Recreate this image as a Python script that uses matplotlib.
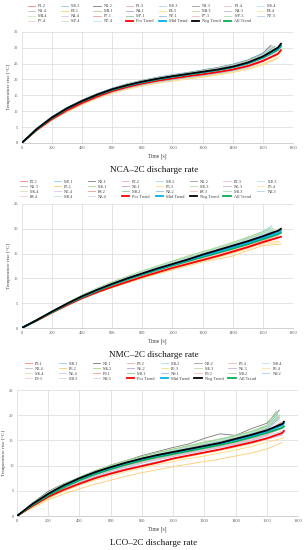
import matplotlib
matplotlib.use("Agg")
import matplotlib.pyplot as plt

plt.rcParams['font.family'] = ['Liberation Serif', 'DejaVu Serif']

W, H = 308, 550

# ---------------- common ----------------
T_GRID = [0, 100, 200, 300, 400, 500, 600, 700, 800, 900, 1000, 1100, 1200, 1300, 1400, 1500, 1600]
TREND_NAMES = ['Pos Trend', 'Mid Trend', 'Neg Trend', 'All Trend']
TREND_COLORS = ['#FF0000', '#00B0F0', '#000000', '#00B050']
SERIES_COLORS = ['#F08080', '#86CFEF', '#7A7A7A', '#F4A8A8', '#A0D9F0', '#9E9E9E', '#F6BEBE', '#B5E2F4',
                 '#BDBDBD', '#FFCC70', '#ADD585', '#BCA0D8', '#FFDA7E', '#BEDC9C', '#CAB4E0', '#FFE39C',
                 '#CDE4B2', '#D8C8EA', '#F29A9A', '#8ACF98', '#98BEE6', '#F6B8B8', '#A8DCB4', '#B0CEEE',
                 '#F8CCCC', '#C0E7C8', '#C8DCF3']

# ---------------- NCA ----------------
nca_names = ['P1.2', 'M1.2', 'N1.2', 'P1.3', 'M1.3', 'N1.3', 'P1.4', 'M1.4', 'N1.4',
             'P4.1', 'M4.1', 'N4.1', 'P4.3', 'M4.3', 'N4.3', 'P4.4', 'M4.4', 'N4.4',
             'P7.1', 'M7.1', 'N7.1', 'P7.3', 'M7.3', 'N7.3', 'P7.4', 'M7.4', 'N7.4']
nca_end_t = [1690, 1660, 1650, 1700, 1670, 1680, 1690, 1660, 1660,
             1700, 1690, 1680, 1710, 1700, 1690, 1700, 1700, 1690,
             1700, 1680, 1680, 1700, 1680, 1680, 1700, 1670, 1660]
nca_P1_2 = [0, 4.2, 7.6, 10.3, 12.7, 14.7, 16.4, 17.8, 18.8, 19.8, 20.5, 21.2, 21.9, 22.7, 23.6, 24.8, 26.6, 28.6]
nca_M1_2 = [0, 4.6, 8.3, 11.2, 13.5, 15.5, 17.2, 18.6, 19.7, 20.7, 21.5, 22.2, 23.0, 23.8, 24.8, 26.2, 28.3, 30.8]
nca_N1_2 = [0, 4.6, 8.2, 11.1, 13.5, 15.5, 17.2, 18.6, 19.7, 20.6, 21.4, 22.1, 22.9, 23.7, 24.7, 26.0, 28.2, 30.6]
nca_P1_3 = [0, 4.3, 7.8, 10.5, 12.9, 14.9, 16.6, 18.0, 19.1, 20.0, 20.8, 21.5, 22.2, 22.9, 23.8, 25.0, 26.8, 29.5]
nca_M1_3 = [0, 4.5, 8.2, 11.0, 13.4, 15.4, 17.1, 18.5, 19.6, 20.5, 21.3, 22.0, 22.7, 23.5, 24.5, 25.8, 27.8, 30.4]
nca_N1_3 = [0, 4.5, 8.1, 11.0, 13.3, 15.3, 17.0, 18.4, 19.5, 20.4, 21.2, 21.9, 22.6, 23.4, 24.4, 25.7, 27.6, 30.5]
nca_P1_4 = [0, 4.4, 7.9, 10.7, 13.0, 15.0, 16.7, 18.1, 19.2, 20.1, 20.9, 21.6, 22.3, 23.0, 23.9, 25.1, 27.0, 29.6]
nca_M1_4 = [0, 4.5, 8.1, 11.0, 13.3, 15.3, 17.0, 18.4, 19.5, 20.4, 21.2, 21.9, 22.7, 23.5, 24.4, 25.7, 27.7, 30.3]
nca_N1_4 = [0, 4.6, 8.2, 11.1, 13.4, 15.4, 17.1, 18.5, 19.6, 20.5, 21.3, 22.0, 22.8, 23.6, 24.6, 25.9, 28.0, 30.7]
nca_P4_1 = [0, 3.8, 7.1, 9.8, 12.0, 14.0, 15.6, 16.9, 17.9, 18.8, 19.5, 20.1, 20.7, 21.4, 22.2, 23.2, 24.6, 26.6]
nca_M4_1 = [0, 4.4, 8.0, 10.8, 13.1, 15.1, 16.8, 18.2, 19.3, 20.2, 21.0, 21.7, 22.4, 23.1, 24.0, 25.2, 27.0, 29.4]
nca_N4_1 = [0, 4.0, 7.4, 10.1, 12.4, 14.4, 16.0, 17.4, 18.4, 19.3, 20.0, 20.6, 21.3, 22.0, 22.9, 24.0, 25.7, 27.6]
nca_P4_3 = [0, 3.9, 7.3, 10.0, 12.2, 14.2, 15.8, 17.1, 18.1, 19.0, 19.7, 20.3, 20.9, 21.6, 22.4, 23.4, 24.9, 27.2]
nca_M4_3 = [0, 4.3, 7.9, 10.7, 13.0, 15.0, 16.7, 18.0, 19.1, 20.0, 20.8, 21.5, 22.2, 22.9, 23.8, 25.0, 26.8, 29.3]
nca_N4_3 = [0, 4.1, 7.5, 10.3, 12.6, 14.6, 16.2, 17.6, 18.6, 19.5, 20.2, 20.9, 21.6, 22.3, 23.2, 24.3, 26.0, 28.0]
nca_P4_4 = [0, 3.9, 7.2, 9.9, 12.1, 14.1, 15.7, 17.0, 18.0, 18.9, 19.6, 20.2, 20.8, 21.5, 22.3, 23.3, 24.8, 26.9]
nca_M4_4 = [0, 4.2, 7.8, 10.6, 12.9, 14.9, 16.6, 17.9, 19.0, 19.9, 20.7, 21.4, 22.1, 22.8, 23.7, 24.9, 26.7, 29.0]
nca_N4_4 = [0, 4.2, 7.7, 10.5, 12.8, 14.8, 16.4, 17.8, 18.8, 19.7, 20.4, 21.1, 21.8, 22.5, 23.4, 24.6, 26.4, 28.5]
nca_P7_1 = [0, 4.0, 7.3, 9.9, 12.3, 14.3, 16.0, 17.3, 18.4, 19.3, 20.1, 20.8, 21.5, 22.2, 23.1, 24.2, 25.9, 28.2]
nca_M7_1 = [0, 4.4, 8.0, 10.9, 13.2, 15.2, 16.9, 18.3, 19.4, 20.3, 21.1, 21.8, 22.5, 23.3, 24.2, 25.5, 27.4, 30.0]
nca_N7_1 = [0, 4.1, 7.5, 10.2, 12.5, 14.4, 16.0, 17.3, 18.3, 19.2, 19.9, 20.6, 21.2, 21.9, 22.7, 23.8, 25.5, 27.8]
nca_P7_3 = [0, 4.1, 7.4, 10.1, 12.4, 14.4, 16.1, 17.5, 18.5, 19.4, 20.2, 20.9, 21.6, 22.3, 23.2, 24.3, 26.0, 28.3]
nca_M7_3 = [0, 4.5, 8.1, 11.0, 13.3, 15.3, 17.0, 18.4, 19.5, 20.4, 21.2, 21.9, 22.6, 23.4, 24.3, 25.6, 27.6, 30.2]
nca_N7_3 = [0, 4.2, 7.6, 10.3, 12.6, 14.5, 16.1, 17.4, 18.4, 19.3, 20.0, 20.7, 21.3, 22.0, 22.8, 23.9, 25.6, 27.9]
nca_P7_4 = [0, 4.2, 7.6, 10.3, 12.6, 14.6, 16.3, 17.7, 18.7, 19.6, 20.4, 21.1, 21.8, 22.5, 23.4, 24.6, 26.4, 28.7]
nca_M7_4 = [0, 4.4, 8.0, 10.8, 13.2, 15.2, 16.9, 18.3, 19.4, 20.3, 21.1, 21.8, 22.5, 23.3, 24.2, 25.5, 27.4, 29.8]
nca_N7_4 = [0, 4.3, 7.8, 10.6, 12.9, 14.9, 16.5, 17.9, 18.9, 19.8, 20.6, 21.3, 22.0, 22.7, 23.6, 24.8, 26.6, 28.5]
nca_series = [nca_P1_2, nca_M1_2, nca_N1_2, nca_P1_3, nca_M1_3, nca_N1_3, nca_P1_4, nca_M1_4, nca_N1_4,
              nca_P4_1, nca_M4_1, nca_N4_1, nca_P4_3, nca_M4_3, nca_N4_3, nca_P4_4, nca_M4_4, nca_N4_4,
              nca_P7_1, nca_M7_1, nca_N7_1, nca_P7_3, nca_M7_3, nca_N7_3, nca_P7_4, nca_M7_4, nca_N7_4]
nca_trend_t = [0, 100, 200, 300, 400, 500, 600, 700, 800, 900, 1000, 1100, 1200, 1300, 1400, 1500, 1600, 1700, 1720]
nca_pos = [0, 4.1, 7.5, 10.3, 12.6, 14.6, 16.3, 17.6, 18.7, 19.6, 20.3, 21.0, 21.6, 22.3, 23.1, 24.2, 25.8, 28.0, 29.2]
nca_mid = [0, 4.35, 7.95, 10.85, 13.15, 15.15, 16.8, 18.1, 19.2, 20.1, 20.9, 21.6, 22.3, 23.0, 23.9, 25.1, 27.0, 29.6, 30.8]
nca_neg = [0, 4.4, 8.0, 10.9, 13.2, 15.2, 16.9, 18.2, 19.3, 20.2, 21.0, 21.7, 22.4, 23.1, 24.0, 25.3, 27.2, 30.0, 31.2]
nca_all = [0, 4.3, 7.9, 10.8, 13.1, 15.1, 16.7, 18.0, 19.1, 20.0, 20.8, 21.5, 22.2, 22.9, 23.8, 25.0, 26.8, 29.3, 30.4]

# ---------------- NMC ----------------
nmc_names = ['P2.1', 'M2.1', 'N2.1', 'P2.2', 'M2.2', 'N2.2', 'P2.3', 'M2.3', 'N2.3',
             'P5.1', 'M5.1', 'N5.1', 'P5.3', 'M5.3', 'N5.3', 'P5.4', 'M5.4', 'N5.4',
             'P8.2', 'M8.2', 'N8.2', 'P8.3', 'M8.3', 'N8.3', 'P8.4', 'M8.4', 'N8.4']
nmc_end_t = [1700, 1660, 1650, 1690, 1670, 1680, 1700, 1650, 1680,
             1720, 1660, 1690, 1710, 1670, 1690, 1710, 1680, 1690,
             1700, 1660, 1670, 1700, 1670, 1660, 1700, 1670, 1660]
nmc_P2_1 = [0, 1.5, 3.1, 4.6, 6.0, 7.3, 8.4, 9.4, 10.4, 11.3, 12.2, 13.0, 13.9, 14.7, 15.6, 16.5, 17.6, 18.7]
nmc_M2_1 = [0, 1.6, 3.3, 5.0, 6.5, 7.9, 9.1, 10.2, 11.3, 12.3, 13.3, 14.2, 15.2, 16.1, 17.1, 18.2, 19.5, 20.6]
nmc_N2_1 = [0, 1.6, 3.3, 4.9, 6.5, 7.8, 9.0, 10.1, 11.1, 12.1, 13.0, 13.9, 14.8, 15.7, 16.6, 18.3, 18.8, 19.6]
nmc_P2_2 = [0, 1.5, 3.1, 4.6, 6.1, 7.4, 8.5, 9.5, 10.5, 11.4, 12.3, 13.2, 14.0, 14.9, 15.8, 16.8, 17.9, 18.9]
nmc_M2_2 = [0, 1.6, 3.3, 4.9, 6.5, 7.9, 9.1, 10.2, 11.2, 12.2, 13.2, 14.1, 15.0, 15.9, 16.9, 17.9, 19.1, 20.0]
nmc_N2_2 = [0, 1.6, 3.3, 4.9, 6.4, 7.7, 8.9, 10.0, 11.0, 12.0, 12.9, 13.8, 14.7, 15.6, 16.5, 17.5, 18.6, 19.5]
nmc_P2_3 = [0, 1.5, 3.1, 4.7, 6.1, 7.4, 8.6, 9.6, 10.6, 11.5, 12.4, 13.3, 14.1, 15.0, 15.9, 16.9, 18.0, 19.0]
nmc_M2_3 = [0, 1.6, 3.3, 5.0, 6.6, 8.0, 9.2, 10.3, 11.4, 12.4, 13.4, 14.3, 15.3, 16.2, 17.2, 18.3, 19.4, 20.1]
nmc_N2_3 = [0, 1.6, 3.2, 4.8, 6.3, 7.6, 8.8, 9.9, 10.9, 11.9, 12.8, 13.7, 14.6, 15.5, 16.4, 17.4, 18.5, 19.4]
nmc_P5_1 = [0, 1.4, 3.0, 4.5, 5.9, 7.1, 8.1, 9.1, 10.0, 10.9, 11.7, 12.5, 13.3, 13.9, 14.5, 15.6, 16.6, 16.9]
nmc_M5_1 = [0, 1.6, 3.3, 5.0, 6.6, 8.0, 9.3, 10.4, 11.5, 12.5, 13.5, 14.5, 15.4, 16.3, 17.3, 18.3, 19.4, 20.2]
nmc_N5_1 = [0, 1.5, 3.2, 4.8, 6.3, 7.6, 8.7, 9.8, 10.8, 11.7, 12.6, 13.5, 14.4, 15.3, 16.2, 17.2, 18.2, 19.1]
nmc_P5_3 = [0, 1.4, 3.0, 4.5, 5.9, 7.2, 8.3, 9.3, 10.2, 11.1, 12.0, 12.8, 13.6, 14.3, 15.1, 16.2, 17.2, 17.5]
nmc_M5_3 = [0, 1.6, 3.3, 5.0, 6.6, 8.0, 9.2, 10.4, 11.5, 12.5, 13.4, 14.4, 15.3, 16.2, 17.1, 18.1, 19.2, 20.0]
nmc_N5_3 = [0, 1.5, 3.2, 4.8, 6.3, 7.6, 8.8, 9.8, 10.8, 11.8, 12.7, 13.6, 14.5, 15.4, 16.3, 17.3, 18.4, 19.2]
nmc_P5_4 = [0, 1.4, 3.0, 4.6, 6.0, 7.2, 8.3, 9.3, 10.3, 11.2, 12.0, 12.8, 13.5, 14.2, 15.0, 15.9, 16.9, 17.2]
nmc_M5_4 = [0, 1.6, 3.3, 4.9, 6.5, 7.9, 9.1, 10.2, 11.3, 12.3, 13.2, 14.1, 15.0, 15.9, 16.8, 17.8, 18.9, 19.7]
nmc_N5_4 = [0, 1.5, 3.2, 4.8, 6.3, 7.6, 8.8, 9.9, 10.9, 11.8, 12.7, 13.6, 14.5, 15.4, 16.3, 17.3, 18.3, 19.1]
nmc_P8_2 = [0, 1.5, 3.1, 4.6, 6.0, 7.3, 8.4, 9.4, 10.4, 11.3, 12.2, 13.0, 13.8, 14.6, 15.5, 16.4, 17.5, 18.3]
nmc_M8_2 = [0, 1.6, 3.3, 5.0, 6.6, 8.0, 9.2, 10.3, 11.4, 12.4, 13.4, 14.3, 15.2, 16.1, 17.0, 18.0, 19.1, 19.8]
nmc_N8_2 = [0, 1.6, 3.3, 4.9, 6.4, 7.8, 9.0, 10.1, 11.1, 12.1, 13.0, 13.9, 14.8, 15.7, 16.6, 17.6, 18.7, 19.5]
nmc_P8_3 = [0, 1.5, 3.1, 4.6, 6.1, 7.3, 8.4, 9.5, 10.5, 11.4, 12.3, 13.1, 13.9, 14.8, 15.7, 16.6, 17.7, 18.6]
nmc_M8_3 = [0, 1.6, 3.3, 4.9, 6.5, 7.9, 9.1, 10.2, 11.3, 12.3, 13.2, 14.2, 15.1, 16.0, 16.9, 17.9, 19.0, 19.8]
nmc_N8_3 = [0, 1.6, 3.3, 4.9, 6.5, 7.8, 9.0, 10.1, 11.2, 12.2, 13.1, 14.0, 14.9, 15.8, 16.7, 17.7, 18.8, 19.7]
nmc_P8_4 = [0, 1.5, 3.1, 4.6, 6.1, 7.4, 8.5, 9.5, 10.5, 11.4, 12.3, 13.1, 14.0, 14.8, 15.7, 16.7, 17.8, 18.8]
nmc_M8_4 = [0, 1.6, 3.3, 5.0, 6.6, 8.0, 9.2, 10.3, 11.4, 12.4, 13.3, 14.3, 15.2, 16.1, 17.1, 18.1, 19.2, 20.0]
nmc_N8_4 = [0, 1.6, 3.3, 4.9, 6.5, 7.8, 9.0, 10.1, 11.2, 12.2, 13.1, 14.0, 15.0, 15.9, 16.8, 17.8, 18.9, 19.8]
nmc_series = [nmc_P2_1, nmc_M2_1, nmc_N2_1, nmc_P2_2, nmc_M2_2, nmc_N2_2, nmc_P2_3, nmc_M2_3, nmc_N2_3,
              nmc_P5_1, nmc_M5_1, nmc_N5_1, nmc_P5_3, nmc_M5_3, nmc_N5_3, nmc_P5_4, nmc_M5_4, nmc_N5_4,
              nmc_P8_2, nmc_M8_2, nmc_N8_2, nmc_P8_3, nmc_M8_3, nmc_N8_3, nmc_P8_4, nmc_M8_4, nmc_N8_4]
nmc_trend_t = [0, 100, 200, 300, 400, 500, 600, 700, 800, 900, 1000, 1100, 1200, 1300, 1400, 1500, 1600, 1700, 1720]
nmc_pos = [0, 1.5, 3.1, 4.6, 6.0, 7.2, 8.3, 9.3, 10.3, 11.2, 12.1, 12.9, 13.7, 14.5, 15.4, 16.3, 17.3, 18.2, 18.4]
nmc_mid = [0, 1.6, 3.25, 4.85, 6.3, 7.6, 8.8, 9.9, 10.9, 11.85, 12.75, 13.65, 14.55, 15.4, 16.3, 17.2, 18.2, 19.2, 19.6]
nmc_neg = [0, 1.6, 3.3, 4.9, 6.4, 7.7, 8.9, 10.0, 11.0, 12.0, 12.9, 13.8, 14.8, 15.7, 16.6, 17.5, 18.5, 19.6, 20.0]
nmc_all = [0, 1.55, 3.2, 4.8, 6.2, 7.5, 8.7, 9.75, 10.75, 11.7, 12.6, 13.45, 14.3, 15.15, 16.0, 16.9, 17.9, 18.9, 19.2]

# ---------------- LCO ----------------
lco_names = ['P3.1', 'M3.1', 'N3.1', 'P3.2', 'M3.2', 'N3.2', 'P3.4', 'M3.4', 'N3.4',
             'P6.2', 'M6.2', 'N6.2', 'P6.3', 'M6.3', 'N6.3', 'P6.4', 'M6.4', 'N6.4',
             'P9.1', 'M9.1', 'N9.1', 'P9.2', 'M9.2', 'N9.2', 'P9.3', 'M9.3', 'N9.3']
lco_end_t = [1690, 1680, 1680, 1700, 1670, 1680, 1700, 1670, 1680,
             1700, 1660, 1700, 1710, 1670, 1700, 1700, 1680, 1690,
             1690, 1670, 1680, 1700, 1680, 1700, 1690, 1670, 1680]
lco_P3_1 = [0, 2.3, 4.2, 5.8, 7.2, 8.3, 9.3, 10.2, 11.0, 11.7, 12.4, 13.0, 13.6, 14.2, 14.9, 15.7, 16.7, 18.5]
lco_M3_1 = [0, 2.5, 4.5, 6.3, 7.7, 8.9, 10.0, 10.9, 11.7, 12.4, 13.1, 13.8, 14.4, 15.0, 15.7, 16.5, 17.5, 20.0]
lco_N3_1 = [0, 2.6, 4.9, 6.4, 7.6, 8.8, 10.1, 11.0, 12.0, 12.8, 13.6, 14.3, 15.4, 16.3, 16.0, 17.3, 18.4, 21.0]
lco_P3_2 = [0, 2.2, 4.1, 5.7, 7.0, 8.1, 9.1, 10.0, 10.7, 11.4, 12.1, 12.7, 13.3, 13.9, 14.6, 15.4, 16.4, 18.0]
lco_M3_2 = [0, 2.5, 4.5, 6.2, 7.6, 8.8, 9.9, 10.8, 11.6, 12.4, 13.1, 13.8, 14.5, 15.1, 15.8, 16.6, 17.7, 20.3]
lco_N3_2 = [0, 2.4, 4.4, 6.1, 7.5, 8.7, 9.8, 10.7, 11.5, 12.2, 12.9, 13.6, 14.2, 14.8, 15.5, 16.3, 17.3, 19.6]
lco_P3_4 = [0, 2.1, 3.9, 5.5, 6.8, 7.9, 8.9, 9.7, 10.5, 11.2, 11.8, 12.4, 13.0, 13.6, 14.3, 15.0, 16.0, 17.5]
lco_M3_4 = [0, 2.5, 4.6, 6.3, 7.7, 8.9, 10.0, 10.9, 11.7, 12.5, 13.2, 13.9, 14.6, 15.2, 15.9, 16.7, 17.8, 20.5]
lco_N3_4 = [0, 2.4, 4.5, 6.2, 7.6, 8.8, 9.8, 10.7, 11.5, 12.3, 13.0, 13.7, 14.3, 14.9, 15.6, 16.4, 17.4, 19.8]
lco_P6_2 = [0, 1.6, 3.2, 4.4, 5.4, 6.3, 7.1, 7.9, 8.6, 9.2, 9.8, 10.3, 10.8, 11.3, 11.9, 12.5, 13.3, 14.6]
lco_M6_2 = [0, 2.5, 4.6, 6.3, 7.7, 9.0, 10.1, 11.0, 11.8, 12.6, 13.3, 14.0, 14.7, 15.3, 16.0, 16.8, 18.0, 20.8]
lco_N6_2 = [0, 2.0, 3.8, 5.3, 6.6, 7.7, 8.6, 9.4, 10.1, 10.8, 11.4, 12.0, 12.6, 13.1, 13.7, 14.4, 15.2, 16.1]
lco_P6_3 = [0, 1.8, 3.5, 4.9, 6.1, 7.1, 8.0, 8.8, 9.5, 10.2, 10.8, 11.4, 11.9, 12.5, 13.1, 13.8, 14.6, 15.5]
lco_M6_3 = [0, 2.4, 4.5, 6.2, 7.6, 8.8, 9.9, 10.8, 11.6, 12.3, 13.0, 13.7, 14.3, 14.9, 15.6, 16.4, 17.5, 19.9]
lco_N6_3 = [0, 2.2, 4.1, 5.7, 7.1, 8.2, 9.2, 10.0, 10.8, 11.5, 12.1, 12.7, 13.3, 13.9, 14.5, 15.3, 16.2, 17.4]
lco_P6_4 = [0, 1.9, 3.7, 5.2, 6.4, 7.5, 8.4, 9.2, 9.9, 10.6, 11.2, 11.8, 12.4, 13.0, 13.6, 14.3, 15.2, 16.4]
lco_M6_4 = [0, 2.4, 4.4, 6.1, 7.5, 8.7, 9.8, 10.7, 11.5, 12.2, 12.9, 13.6, 14.2, 14.8, 15.5, 16.3, 17.3, 19.5]
lco_N6_4 = [0, 2.2, 4.1, 5.8, 7.1, 8.3, 9.3, 10.1, 10.9, 11.6, 12.2, 12.8, 13.4, 14.0, 14.7, 15.4, 16.4, 17.8]
lco_P9_1 = [0, 2.3, 4.2, 5.8, 7.1, 8.3, 9.3, 10.1, 10.9, 11.6, 12.3, 12.9, 13.5, 14.1, 14.8, 15.6, 16.6, 18.6]
lco_M9_1 = [0, 2.5, 4.6, 6.3, 7.7, 9.0, 10.0, 10.9, 11.7, 12.5, 13.2, 13.9, 14.5, 15.2, 15.9, 16.7, 17.8, 20.2]
lco_N9_1 = [0, 2.4, 4.4, 6.1, 7.5, 8.7, 9.7, 10.6, 11.4, 12.2, 12.9, 13.5, 14.2, 14.8, 15.5, 16.3, 17.3, 19.3]
lco_P9_2 = [0, 2.2, 4.0, 5.6, 6.9, 8.0, 9.0, 9.8, 10.6, 11.3, 11.9, 12.5, 13.1, 13.7, 14.4, 15.1, 16.1, 17.6]
lco_M9_2 = [0, 2.5, 4.5, 6.2, 7.6, 8.8, 9.9, 10.8, 11.6, 12.4, 13.1, 13.8, 14.4, 15.1, 15.8, 16.6, 17.6, 20.0]
lco_N9_2 = [0, 2.1, 3.9, 5.5, 6.8, 7.9, 8.9, 9.7, 10.5, 11.2, 11.8, 12.4, 13.0, 13.6, 14.2, 14.9, 15.8, 16.9]
lco_P9_3 = [0, 2.2, 4.1, 5.7, 7.0, 8.2, 9.2, 10.0, 10.8, 11.5, 12.2, 12.8, 13.4, 14.0, 14.7, 15.5, 16.5, 18.3]
lco_M9_3 = [0, 2.5, 4.5, 6.2, 7.7, 8.9, 9.9, 10.8, 11.6, 12.4, 13.1, 13.7, 14.4, 15.0, 15.7, 16.5, 17.6, 19.9]
lco_N9_3 = [0, 2.3, 4.3, 6.0, 7.4, 8.6, 9.6, 10.5, 11.3, 12.0, 12.7, 13.3, 13.9, 14.5, 15.2, 16.0, 17.0, 19.0]
lco_series = [lco_P3_1, lco_M3_1, lco_N3_1, lco_P3_2, lco_M3_2, lco_N3_2, lco_P3_4, lco_M3_4, lco_N3_4,
              lco_P6_2, lco_M6_2, lco_N6_2, lco_P6_3, lco_M6_3, lco_N6_3, lco_P6_4, lco_M6_4, lco_N6_4,
              lco_P9_1, lco_M9_1, lco_N9_1, lco_P9_2, lco_M9_2, lco_N9_2, lco_P9_3, lco_M9_3, lco_N9_3]
lco_trend_t = [0, 100, 200, 300, 400, 500, 600, 700, 800, 900, 1000, 1100, 1200, 1300, 1400, 1500, 1600, 1700, 1710]
lco_pos = [0, 2.0, 3.8, 5.2, 6.4, 7.5, 8.4, 9.2, 9.9, 10.6, 11.4, 12.0, 12.6, 13.2, 13.9, 14.6, 15.4, 16.5, 16.9]
lco_mid = [0, 2.35, 4.3, 6.0, 7.4, 8.6, 9.6, 10.5, 11.3, 12.0, 12.6, 13.2, 13.8, 14.4, 15.1, 15.9, 16.8, 18.0, 18.4]
lco_neg = [0, 2.4, 4.4, 6.1, 7.5, 8.7, 9.7, 10.6, 11.4, 12.1, 12.7, 13.3, 13.9, 14.5, 15.3, 16.1, 17.0, 18.3, 18.7]
lco_all = [0, 2.2, 4.1, 5.7, 7.1, 8.3, 9.3, 10.2, 11.0, 11.7, 12.3, 12.9, 13.5, 14.1, 14.8, 15.6, 16.5, 17.5, 17.8]

CAPTIONS = ['NCA\u20132C discharge rate', 'NMC\u20132C discharge rate', 'LCO\u20132C discharge rate']

fig = plt.figure(figsize=(W / 100, H / 100), dpi=100)


def px_rect(left, top, right, bottom):
    return [left / W, 1 - bottom / H, (right - left) / W, (bottom - top) / H]


def panel(rect, names, series, end_t, trend_t, trends, ymax, caption, cap_y,
          leg_x0, leg_dx, leg_top, xlab_pad):
    ax = fig.add_axes(rect)
    handles = []
    for i, (nm, vals) in enumerate(zip(names, series)):
        tt = T_GRID + [end_t[i]]
        ln, = ax.plot(tt, vals, color=SERIES_COLORS[i], lw=0.6, label=nm, zorder=2)
        handles.append(ln)
    trend_handles = []
    for nm, vals, col in zip(TREND_NAMES, trends, TREND_COLORS):
        ln, = ax.plot(trend_t, vals, color=col, lw=1.3, label=nm, zorder=3)
        trend_handles.append(ln)
    # drawing order of trends: Pos, All, Mid, Neg on top
    trend_handles[0].set_zorder(3.0)
    trend_handles[3].set_zorder(3.1)
    trend_handles[1].set_zorder(3.2)
    trend_handles[2].set_zorder(3.3)
    handles = handles + trend_handles

    ax.set_xlim(0, 1800)
    ax.set_ylim(0, ymax)
    ax.set_xticks(range(0, 1801, 200))
    ax.set_yticks(range(0, ymax + 1, 5))
    ax.grid(True, color='#D9D9D9', lw=0.5)
    ax.set_axisbelow(True)
    for s in ['top', 'right', 'left']:
        ax.spines[s].set_visible(False)
    ax.spines['bottom'].set_color('#BFBFBF')
    ax.spines['bottom'].set_linewidth(0.5)
    ax.tick_params(length=0, labelsize=3.2, colors='#595959', pad=2.5)
    ax.set_xlabel('Time [s]', fontsize=4.0, color='#404040', labelpad=xlab_pad)
    ax.set_ylabel('Temperature rise [\u00b0C]', fontsize=3.8, color='#404040', labelpad=2)

    # legend: 8 equally spaced columns, row-major order
    for c in range(8):
        hs = handles[c::8]
        fig.legend(handles=hs, labels=[h.get_label() for h in hs], loc='upper left',
                   bbox_to_anchor=((leg_x0 + c * leg_dx) / W, 1 - leg_top / H),
                   frameon=False, fontsize=3.2, handlelength=1.6, handletextpad=0.7,
                   labelspacing=0.22, borderpad=0, borderaxespad=0, labelcolor='#404040')

    fig.text(0.5, 1 - cap_y / H, caption, ha='center', va='center', fontsize=6.6, color='#111111')
    return ax


panel(px_rect(21.7, 31.7, 293, 143), nca_names, nca_series, nca_end_t, nca_trend_t,
      [nca_pos, nca_mid, nca_neg, nca_all], 35, CAPTIONS[0], 170, 28, 32.7, 4.0, 2.0)
panel(px_rect(21.7, 204, 293, 328), nmc_names, nmc_series, nmc_end_t, nmc_trend_t,
      [nmc_pos, nmc_mid, nmc_neg, nmc_all], 25, CAPTIONS[1], 355, 20, 33.9, 179.5, 2.0)
panel(px_rect(17, 390, 298, 516), lco_names, lco_series, lco_end_t, lco_trend_t,
      [lco_pos, lco_mid, lco_neg, lco_all], 25, CAPTIONS[2], 543, 25, 33.9, 361.5, 2.0)

fig.savefig('out.png', dpi=100)
